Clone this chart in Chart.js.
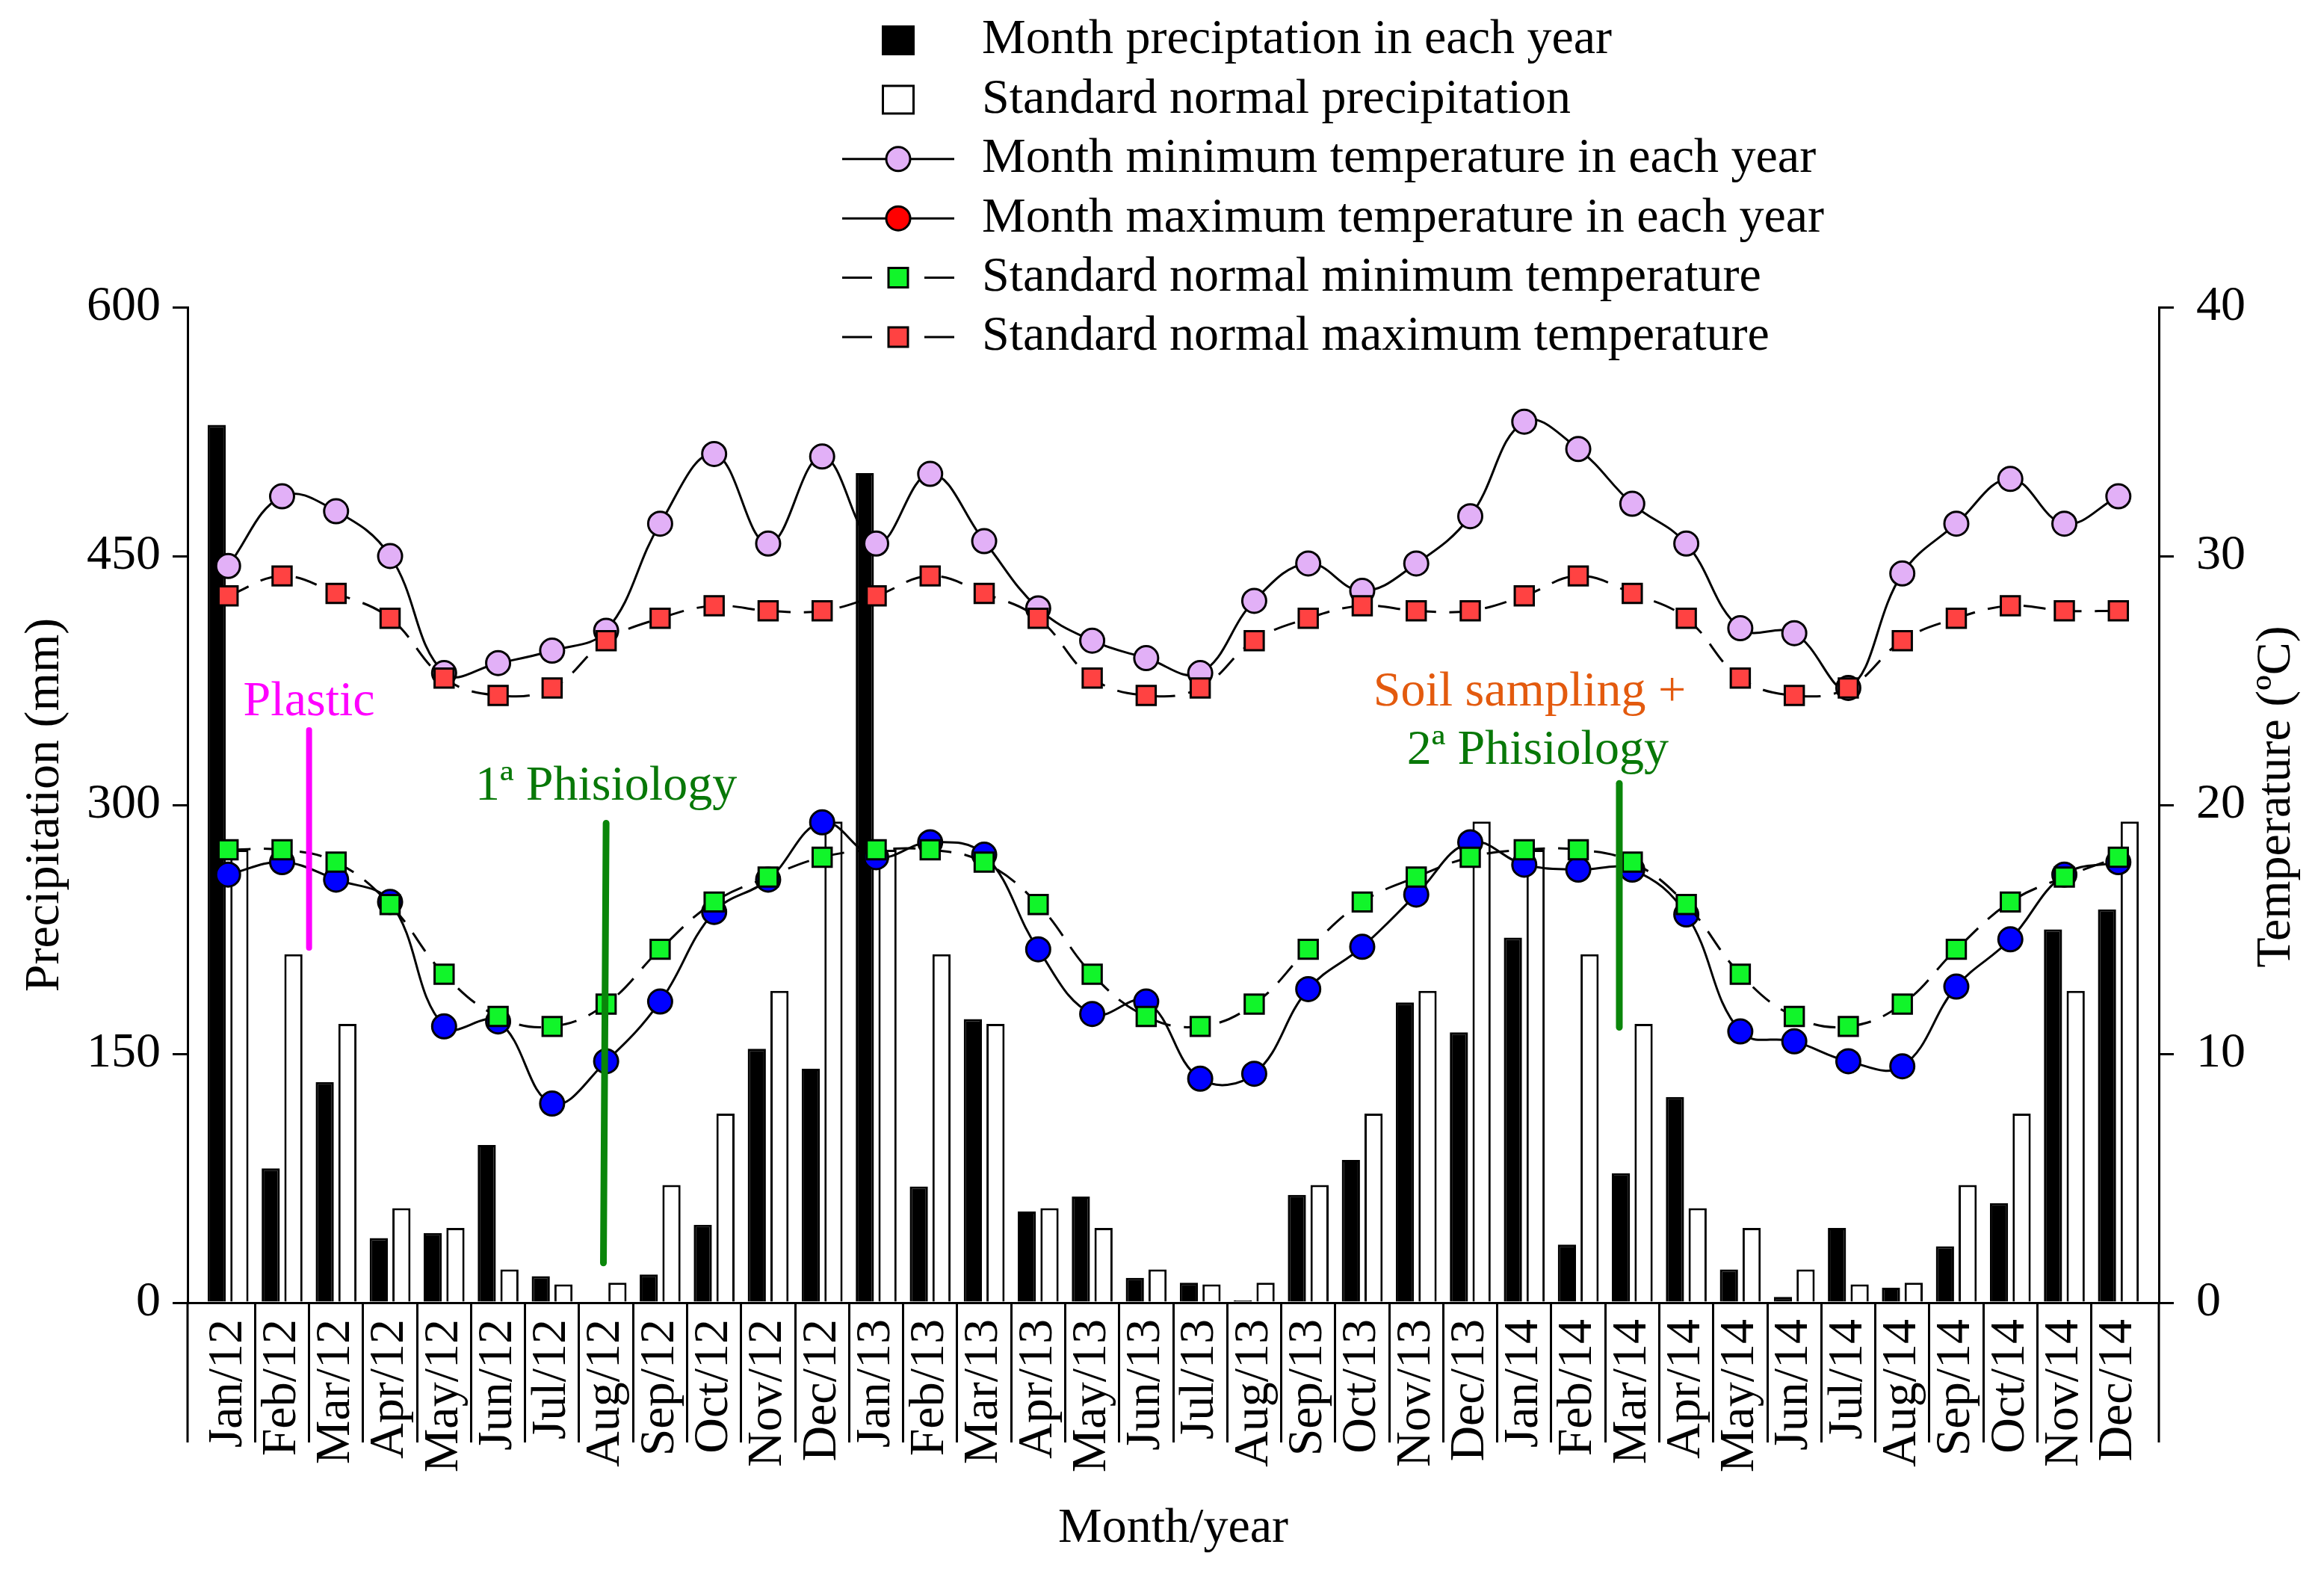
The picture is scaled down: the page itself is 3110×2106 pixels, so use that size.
<!DOCTYPE html>
<html>
<head>
<meta charset="utf-8">
<title>Monthly precipitation and temperature 2012-2014</title>
<script src="https://cdn.jsdelivr.net/npm/chart.js@4.4.1/dist/chart.umd.min.js"></script>
<style>
  html, body { margin: 0; padding: 0; background: #fff; }
  canvas { display: block; }
</style>
</head>
<body>
<canvas id="chart" width="3110" height="2106"></canvas>
<script>
// categories
const months = [
  'Jan/12', 'Feb/12', 'Mar/12', 'Apr/12', 'May/12', 'Jun/12', 'Jul/12', 'Aug/12', 'Sep/12', 'Oct/12', 'Nov/12', 'Dec/12',
  'Jan/13', 'Feb/13', 'Mar/13', 'Apr/13', 'May/13', 'Jun/13', 'Jul/13', 'Aug/13', 'Sep/13', 'Oct/13', 'Nov/13', 'Dec/13',
  'Jan/14', 'Feb/14', 'Mar/14', 'Apr/14', 'May/14', 'Jun/14', 'Jul/14', 'Aug/14', 'Sep/14', 'Oct/14', 'Nov/14', 'Dec/14'
];

// precipitation (mm)
const monthPrecip = [
  529, 81, 133, 39, 42, 95, 16, 0, 17, 47, 153, 141,
  500, 70, 171, 55, 64, 15, 12, 1.5, 65, 86, 181, 163,
  220, 35, 78, 124, 20, 3.5, 45, 9, 34, 60, 225, 237
];
const normalPrecip = [
  273, 210, 168, 57, 45, 20, 11, 12, 71, 114, 188, 290,
  273, 210, 168, 57, 45, 20, 11, 12, 71, 114, 188, 290,
  273, 210, 168, 57, 45, 20, 11, 12, 71, 114, 188, 290
];

// temperature (ºC)
const monthMinTemp = [
  29.6, 32.4, 31.8, 30.0, 25.3, 25.7, 26.2, 27.0, 31.3, 34.1, 30.5, 34.0,
  30.5, 33.3, 30.6, 27.9, 26.6, 25.9, 25.3, 28.2, 29.7, 28.6, 29.7, 31.6,
  35.4, 34.3, 32.1, 30.5, 27.1, 26.9, 24.7, 29.3, 31.3, 33.1, 31.3, 32.4
];
const monthMaxTemp = [
  17.2, 17.7, 17.0, 16.1, 11.1, 11.3, 8.0, 9.7, 12.1, 15.7, 17.0, 19.3,
  17.9, 18.5, 18.0, 14.2, 11.6, 12.1, 9.0, 9.2, 12.6, 14.3, 16.4, 18.5,
  17.6, 17.4, 17.4, 15.6, 10.9, 10.5, 9.7, 9.5, 12.7, 14.6, 17.2, 17.7
];
const normalMinTemp = [
  18.2, 18.2, 17.7, 16.0, 13.2, 11.5, 11.1, 12.0, 14.2, 16.1, 17.1, 17.9,
  18.2, 18.2, 17.7, 16.0, 13.2, 11.5, 11.1, 12.0, 14.2, 16.1, 17.1, 17.9,
  18.2, 18.2, 17.7, 16.0, 13.2, 11.5, 11.1, 12.0, 14.2, 16.1, 17.1, 17.9
];
const normalMaxTemp = [
  28.4, 29.2, 28.5, 27.5, 25.1, 24.4, 24.7, 26.6, 27.5, 28.0, 27.8, 27.8,
  28.4, 29.2, 28.5, 27.5, 25.1, 24.4, 24.7, 26.6, 27.5, 28.0, 27.8, 27.8,
  28.4, 29.2, 28.5, 27.5, 25.1, 24.4, 24.7, 26.6, 27.5, 28.0, 27.8, 27.8
];

// axis ticks
const precipTicks = [0, 150, 300, 450, 600];
const tempTicks = [0, 10, 20, 30, 40];

// field events written on the plot (x = month index, y = mm)
const notes = [
  { text: 'Plastic', color: '#FF00FF', x: 1.5, y: 354 },
  { text: '1ª Phisiology', color: '#087808', x: 7, y: 303 },
  { text: 'Soil sampling +', color: '#E35A0E', x: 24.1, y: 360 },
  { text: '2ª Phisiology', color: '#087808', x: 24.25, y: 325 }
];
const noteLines = [
  { color: '#FF00FF', width: 8, x0: 1.5, y0: 345, x1: 1.5, y1: 214 },
  { color: '#0A860A', width: 9, x0: 7.0, y0: 289, x1: 6.95, y1: 24 },
  { color: '#0A860A', width: 9, x0: 25.76, y0: 313, x1: 25.76, y1: 166 }
];

const FONT = '"Liberation Serif", "Times New Roman", serif';
Chart.defaults.font.family = FONT;
Chart.defaults.font.size = 66;
Chart.defaults.color = '#000';

// legend drawn as one column above the plot, marker + line like the original
const columnLegend = {
  id: 'columnLegend',
  afterDraw(chart) {
    const ctx = chart.ctx;
    const mx = 1202, tx = 1314;
    ctx.save();
    ctx.font = '66px ' + FONT;
    ctx.textBaseline = 'middle';
    ctx.textAlign = 'left';
    chart.data.datasets.forEach((ds, i) => {
      const y = 54 + i * 79.4;
      ctx.lineWidth = 3;
      ctx.strokeStyle = '#000';
      if (ds.type === 'bar') {
        ctx.fillStyle = ds.backgroundColor;
        ctx.fillRect(mx - 22, y - 20, 44, 40);
        ctx.strokeRect(mx - 20.5, y - 18.5, 41, 37);
      } else {
        ctx.setLineDash(ds.borderDash ? [] : []);
        ctx.beginPath();
        if (ds.borderDash) {
          ctx.moveTo(mx - 75, y); ctx.lineTo(mx - 35, y);
          ctx.moveTo(mx + 35, y); ctx.lineTo(mx + 75, y);
        } else {
          ctx.moveTo(mx - 75, y); ctx.lineTo(mx + 75, y);
        }
        ctx.stroke();
        ctx.fillStyle = ds.legendPointColor || ds.pointBackgroundColor;
        ctx.beginPath();
        if (ds.pointStyle === 'rect') {
          ctx.rect(mx - 13, y - 13, 26, 26);
        } else {
          ctx.arc(mx, y, 16, 0, Math.PI * 2);
        }
        ctx.fill();
        ctx.stroke();
      }
      ctx.fillStyle = '#000';
      ctx.fillText(ds.label, tx, y);
    });

    // right axis title reads bottom to top, like the left one
    const t = chart.options.scales.yT.title;
    ctx.translate(3047, 1066);
    ctx.rotate(-Math.PI / 2);
    ctx.textAlign = 'center';
    ctx.fillText(t.text, 0, 0);
    ctx.restore();
  }
};

// axis lines continue down through the month band; event notes
const extras = {
  id: 'extras',
  afterDraw(chart) {
    const ctx = chart.ctx;
    const a = chart.chartArea;
    const band = chart.options.scales.x.grid.tickLength;
    ctx.save();
    ctx.strokeStyle = '#000';
    ctx.lineWidth = 3;
    ctx.beginPath();
    ctx.moveTo(a.left, a.bottom); ctx.lineTo(a.left, a.bottom + band);
    ctx.moveTo(a.right, a.bottom); ctx.lineTo(a.right, a.bottom + band);
    ctx.stroke();
    ctx.restore();
  },
  afterDatasetsDraw(chart) {
    const ctx = chart.ctx;
    const xs = chart.scales.x, ys = chart.scales.yP;
    ctx.save();
    ctx.lineCap = 'round';
    noteLines.forEach(l => {
      ctx.strokeStyle = l.color;
      ctx.lineWidth = l.width;
      ctx.beginPath();
      ctx.moveTo(xs.getPixelForValue(l.x0), ys.getPixelForValue(l.y0));
      ctx.lineTo(xs.getPixelForValue(l.x1), ys.getPixelForValue(l.y1));
      ctx.stroke();
    });
    ctx.font = '66px ' + FONT;
    ctx.textAlign = 'center';
    ctx.textBaseline = 'alphabetic';
    notes.forEach(n => {
      ctx.fillStyle = n.color;
      ctx.fillText(n.text, xs.getPixelForValue(n.x), ys.getPixelForValue(n.y));
    });
    ctx.restore();
  }
};

const lineBase = {
  type: 'line',
  yAxisID: 'yT',
  fill: false,
  borderColor: '#000',
  borderWidth: 3,
  tension: 0.4,
  pointBorderColor: '#000',
  pointBorderWidth: 3
};

new Chart(document.getElementById('chart'), {
  type: 'bar',
  data: {
    labels: months.map((m, i) => i),
    datasets: [
      {
        type: 'bar', label: 'Month preciptation in each year', data: monthPrecip, yAxisID: 'yP',
        backgroundColor: '#000', borderColor: '#000', borderWidth: 3, order: 2
      },
      {
        type: 'bar', label: 'Standard normal precipitation', data: normalPrecip, yAxisID: 'yP',
        backgroundColor: '#fff', borderColor: '#000', borderWidth: 3, order: 2
      },
      Object.assign({}, lineBase, {
        label: 'Month minimum temperature in each year', data: monthMinTemp,
        pointStyle: 'circle', pointRadius: 16, pointBackgroundColor: '#E2B0F7', order: 1
      }),
      Object.assign({}, lineBase, {
        label: 'Month maximum temperature in each year', data: monthMaxTemp,
        pointStyle: 'circle', pointRadius: 16, pointBackgroundColor: '#0000FF',
        legendPointColor: '#FF0000', order: 1
      }),
      Object.assign({}, lineBase, {
        label: 'Standard normal minimum temperature', data: normalMinTemp, borderDash: [30, 18],
        pointStyle: 'rect', pointRadius: 18, pointBackgroundColor: '#11F52A', order: 0
      }),
      Object.assign({}, lineBase, {
        label: 'Standard normal maximum temperature', data: normalMaxTemp, borderDash: [30, 18],
        pointStyle: 'rect', pointRadius: 18, pointBackgroundColor: '#FF4242', order: 0
      })
    ]
  },
  options: {
    responsive: false,
    devicePixelRatio: 1,
    animation: false,
    layout: { padding: { top: 411, left: 0, right: 0, bottom: 0 } },
    datasets: { bar: { categoryPercentage: 0.84, barPercentage: 0.8 } },
    plugins: {
      legend: { display: false },
      tooltip: { enabled: false }
    },
    scales: {
      x: {
        type: 'linear',
        min: -0.75,
        max: months.length - 0.25,
        offset: false,
        afterBuildTicks: s => { s.ticks = months.map((m, i) => ({ value: i })); },
        afterFit: s => { s.height = 363; },
        ticks: {
          autoSkip: false,
          minRotation: 90,
          maxRotation: 90,
          padding: -165,
          font: { size: 66 },
          callback: v => months[v]
        },
        grid: {
          offset: true,
          drawOnChartArea: false,
          tickLength: 187,
          lineWidth: 3,
          color: c => (c.index > 0 ? '#000' : 'rgba(0,0,0,0)')
        },
        border: { color: '#000', width: 3 },
        title: { display: true, text: 'Month/year', font: { size: 66 }, padding: { top: 0, bottom: 21 } }
      },
      yP: {
        position: 'left',
        min: precipTicks[0],
        max: precipTicks[precipTicks.length - 1],
        afterBuildTicks: s => { s.ticks = precipTicks.map(v => ({ value: v })); },
        afterFit: s => { s.width = 251; },
        ticks: { padding: 16, font: { size: 66 } },
        grid: { drawOnChartArea: false, tickLength: 20, lineWidth: 3, color: '#000' },
        border: { color: '#000', width: 3 },
        title: { display: true, text: 'Precipitation (mm)', font: { size: 66 }, padding: { top: 21, bottom: 0 } }
      },
      yT: {
        position: 'right',
        min: tempTicks[0],
        max: tempTicks[tempTicks.length - 1],
        afterBuildTicks: s => { s.ticks = tempTicks.map(v => ({ value: v })); },
        afterFit: s => { s.width = 221; },
        ticks: { padding: 30, font: { size: 66 } },
        grid: { drawOnChartArea: false, tickLength: 20, lineWidth: 3, color: '#000' },
        border: { color: '#000', width: 3 },
        title: { display: false, text: 'Temperature (ºC)' }
      }
    }
  },
  plugins: [extras, columnLegend]
});
</script>
</body>
</html>
